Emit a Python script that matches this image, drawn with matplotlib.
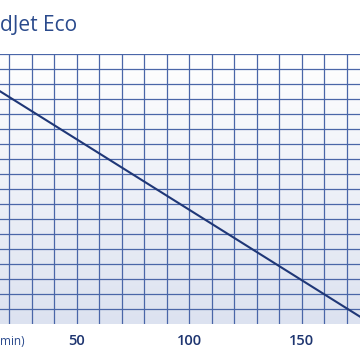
import matplotlib
matplotlib.use("Agg")
import matplotlib.pyplot as plt
import numpy as np
from matplotlib.colors import LinearSegmentedColormap

# Data (flow in l/min, head in m)
flow = [0, 181]
head = [1.70, 0.0]
xtick_vals = [50, 100, 150]
xtick_labels = ["50", "100", "150"]

plt.rcParams["font.family"] = ["Open Sans", "DejaVu Sans"]

fig = plt.figure(figsize=(3.6, 3.6), dpi=100)
fig.patch.set_facecolor("white")
ax = fig.add_axes([0.0, 0.1, 1.0, 0.75])

xlim = (15.8, 175.8)
ylim = (0.0, 1.8)
ax.set_xlim(*xlim)
ax.set_ylim(*ylim)

# gradient background
grad = np.linspace(0, 1, 256).reshape(-1, 1)
cmap = LinearSegmentedColormap.from_list("bg", ["#dce2f0", "#ffffff"])
ax.imshow(grad, aspect="auto", cmap=cmap, origin="lower",
          extent=[xlim[0], xlim[1], ylim[0], ylim[1]], zorder=0)

grid_color = "#4a66a8"
ax.set_xticks(xtick_vals)
ax.set_xticklabels(xtick_labels)
ax.set_xticks(np.arange(20, 180, 10), minor=True)
ax.set_yticks(np.arange(0.1, 1.81, 0.1))
ax.set_yticks([], minor=True)
ax.grid(True, which="both", axis="x", color=grid_color, linewidth=0.9, zorder=1)
ax.grid(True, which="major", axis="y", color=grid_color, linewidth=0.9, zorder=1)
ax.tick_params(axis="x", which="both", length=0, pad=7, labelsize=10.5,
               colors="#1e3570")
for lbl in ax.get_xticklabels():
    lbl.set_fontweight("semibold")
ax.tick_params(axis="y", which="both", length=0, labelleft=False)
for s in ax.spines.values():
    s.set_visible(False)

ax.plot(flow, head, color="#1f3777", linewidth=1.5, zorder=3, solid_capstyle="butt")

fig.text(0.0, 0.915, "dJet Eco", fontsize=15, color="#2a4a8c", ha="left", va="baseline")
fig.text(0.0, 0.042, "min)", fontsize=8.5, color="#2a4a8c", ha="left", va="baseline")

fig.savefig("out.png", dpi=100, facecolor="white")
